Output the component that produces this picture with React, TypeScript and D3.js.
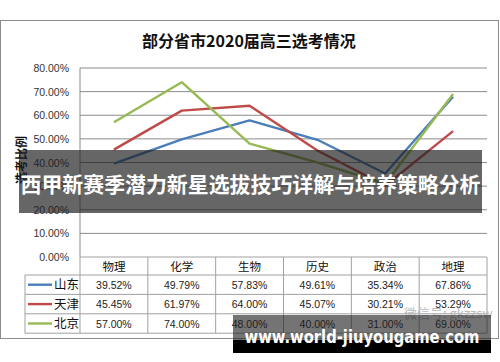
import React from "react";
import * as d3 from "d3";

const title = "部分省市2020届高三选考情况";
const yLabel = "选考比例";
const categories = ["物理", "化学", "生物", "历史", "政治", "地理"];
const seriesNames = ["山东", "天津", "北京"];
const shandong = [39.52, 49.79, 57.83, 49.61, 35.34, 67.86];
const tianjin = [45.45, 61.97, 64.0, 45.07, 30.21, 53.29];
const beijing = [57.0, 74.0, 48.0, 40.0, 31.0, 69.0];
const yTicks = [0, 10, 20, 30, 40, 50, 60, 70, 80];
const colors = ["#4a7ebb", "#be4b48", "#98b954"];
const bannerText = "西甲新赛季潜力新星选拔技巧详解与培养策略分析";
const siteText = "www.world-jiuyougame.com";
const watermark = "微信号: gkzzsw";

export default function App() {
  const W = 500, H = 362;
  const left = 80, right = 487, top = 68, bottom = 257;
  const x = d3.scaleBand<string>().domain(categories).range([left, right]).padding(0);
  const y = d3.scaleLinear().domain([0, 80]).range([bottom, top]);
  const series = [shandong, tianjin, beijing];
  const line = d3
    .line<number>()
    .x((_, i) => (x(categories[i]) as number) + x.bandwidth() / 2)
    .y((d) => y(d));
  const rowTop = 275;
  const rowH = 19.4;
  const tableLeft = 25;
  const font = "'Noto Sans CJK SC', 'Noto Sans', sans-serif";
  return (
    <svg
      width={W}
      height={H}
      style={{ position: "absolute", left: 0, top: 0, background: "#fff" }}
      fontFamily={font}
    >
      <rect x={0.5} y={20.5} width={498} height={318} fill="#fff" stroke="#8c8c8c" strokeWidth={1} />
      <text x={249} y={47} textAnchor="middle" fontSize={16} fontWeight="bold" fill="#111">
        {title}
      </text>
      {yTicks.map((t) => (
        <g key={t}>
          {t > 0 && (
            <line x1={left} x2={right} y1={y(t)} y2={y(t)} stroke="#8a8a8a" strokeWidth={1} />
          )}
          <text x={69} y={y(t) + 4} textAnchor="end" fontSize={10.5} fill="#333" fontFamily="'Liberation Sans', sans-serif">
            {t.toFixed(2) + "%"}
          </text>
        </g>
      ))}
      <line x1={left} x2={left} y1={top} y2={bottom} stroke="#8a8a8a" />
      <text
        transform={`translate(26,160) rotate(-90)`}
        textAnchor="middle"
        fontSize={12}
        fontWeight="bold"
        fill="#111"
      >
        {yLabel}
      </text>
      {series.map((s, i) => (
        <path key={i} d={line(s) || ""} fill="none" stroke={colors[i]} strokeWidth={2.4} strokeLinejoin="round" />
      ))}
      {/* table */}
      <g stroke="#a0a0a0" strokeWidth={1} fill="none">
        <line x1={left} x2={right} y1={bottom} y2={bottom} />
        {[0, 1, 2, 3].map((r) => (
          <line key={r} x1={tableLeft} x2={right} y1={rowTop + r * rowH} y2={rowTop + r * rowH} />
        ))}
        <line x1={tableLeft} x2={tableLeft} y1={rowTop} y2={rowTop + 3 * rowH} />
        {categories.map((c) => (
          <line key={c} x1={x(c)} x2={x(c)} y1={bottom} y2={rowTop + 3 * rowH} />
        ))}
        <line x1={right} x2={right} y1={bottom} y2={rowTop + 3 * rowH} />
      </g>
      {categories.map((c) => (
        <text key={c} x={(x(c) as number) + x.bandwidth() / 2} y={271} textAnchor="middle" fontSize={11.5} fill="#111">
          {c}
        </text>
      ))}
      {series.map((s, i) => (
        <g key={i}>
          <line x1={28} x2={52} y1={rowTop + i * rowH + rowH / 2} y2={rowTop + i * rowH + rowH / 2} stroke={colors[i]} strokeWidth={2.4} />
          <text x={54} y={rowTop + i * rowH + rowH / 2 + 4.5} fontSize={12.5} fill="#111">
            {seriesNames[i]}
          </text>
          {s.map((v, j) => (
            <text
              key={j}
              x={(x(categories[j]) as number) + x.bandwidth() / 2}
              y={rowTop + i * rowH + rowH / 2 + 4}
              textAnchor="middle"
              fontSize={10.5}
              fill="#222"
              fontFamily="'Liberation Sans', sans-serif"
            >
              {v.toFixed(2) + "%"}
            </text>
          ))}
        </g>
      ))}
      <text x={404} y={318} fontSize={13} fill="#bbb">
        {watermark}
      </text>
      {/* overlays */}
      <rect x={19} y={150} width={463} height={63} fill="rgba(30,30,30,0.68)" />
      <text x={250.5} y={192} textAnchor="middle" fontSize={21} fontWeight="bold" fill="#fff" textLength={460} lengthAdjust="spacingAndGlyphs">
        {bannerText}
      </text>
      <rect x={233} y={315} width={258} height={25} fill="rgba(30,30,30,0.62)" />
      <rect x={233} y={340} width={258} height={13} fill="#000" />
      <text x={362} y={343} textAnchor="middle" fontSize={18} fontWeight="bold" fill="#fff" fontFamily="'DejaVu Sans', sans-serif" textLength={235} lengthAdjust="spacingAndGlyphs">
        {siteText}
      </text>
    </svg>
  );
}
